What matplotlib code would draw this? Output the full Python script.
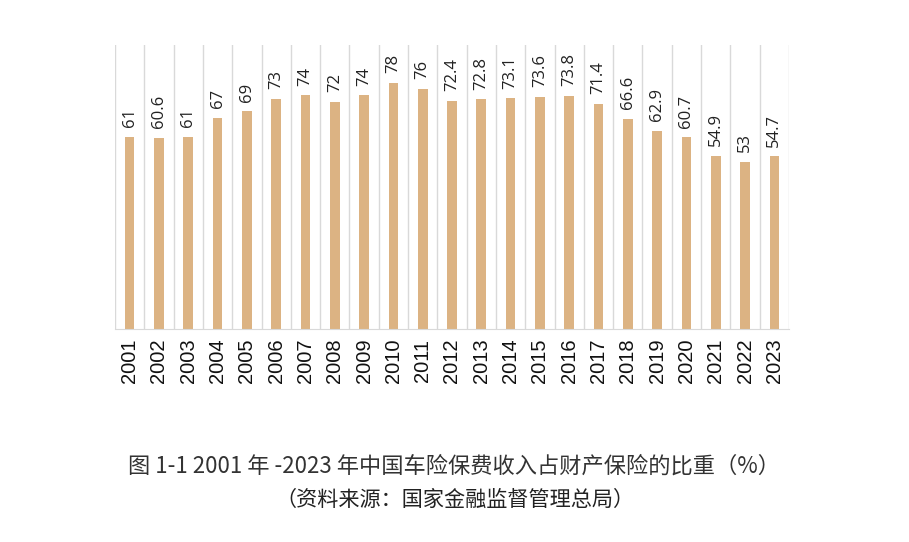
import matplotlib.pyplot as plt

years = [str(y) for y in range(2001, 2024)]
share = [61, 60.6, 61, 67, 69, 73, 74, 72, 74, 78, 76, 72.4, 72.8, 73.1,
         73.6, 73.8, 71.4, 66.6, 62.9, 60.7, 54.9, 53, 54.7]
value_labels = ['61', '60.6', '61', '67', '69', '73', '74', '72', '74', '78', '76',
                '72.4', '72.8', '73.1', '73.6', '73.8', '71.4', '66.6', '62.9',
                '60.7', '54.9', '53', '54.7']

title = '图 1-1 2001 年 -2023 年中国车险保费收入占财产保险的比重（%）'
source = '（资料来源：国家金融监督管理总局）'

fig = plt.figure(figsize=(9.09, 5.42), dpi=100)
ax = fig.add_axes([115 / 909, 1 - 329 / 542, (789 - 115) / 909, (329 - 45) / 542])

x = list(range(len(years)))
ax.bar(x, share, width=0.33, color='#dcb383', zorder=2)

for xi, v, lab in zip(x, share, value_labels):
    ax.annotate(lab, (xi, v), xytext=(0, 7), textcoords='offset points',
                rotation=90, ha='center', va='bottom', fontsize=12,
                family='Open Sans', color='#222222')

ax.set_xlim(-0.5, len(years) - 0.5)
ax.set_ylim(0, 90)
for b in range(len(years) + 1):
    ax.axvline(b - 0.5, color='#d9d9d9', lw=1, zorder=1)

ax.set_xticks(x)
ax.set_xticklabels(years, rotation=90, fontsize=14.5, family='Liberation Sans',
                   color='#111111')
ax.tick_params(axis='x', length=0, pad=7)
ax.set_yticks([])
for side in ['left', 'right', 'top']:
    ax.spines[side].set_visible(False)
ax.spines['bottom'].set_color('#d9d9d9')

fig.text(0.5, 1 - 466 / 542, title, ha='center', va='center', fontsize=16,
         family=['Noto Sans CJK SC', 'DejaVu Sans'], color='#333333')
fig.text(0.5, 1 - 500 / 542, source, ha='center', va='center', fontsize=15.2,
         family=['Noto Sans CJK SC', 'DejaVu Sans'], color='#222222')

fig.savefig('out.png', dpi=100)
